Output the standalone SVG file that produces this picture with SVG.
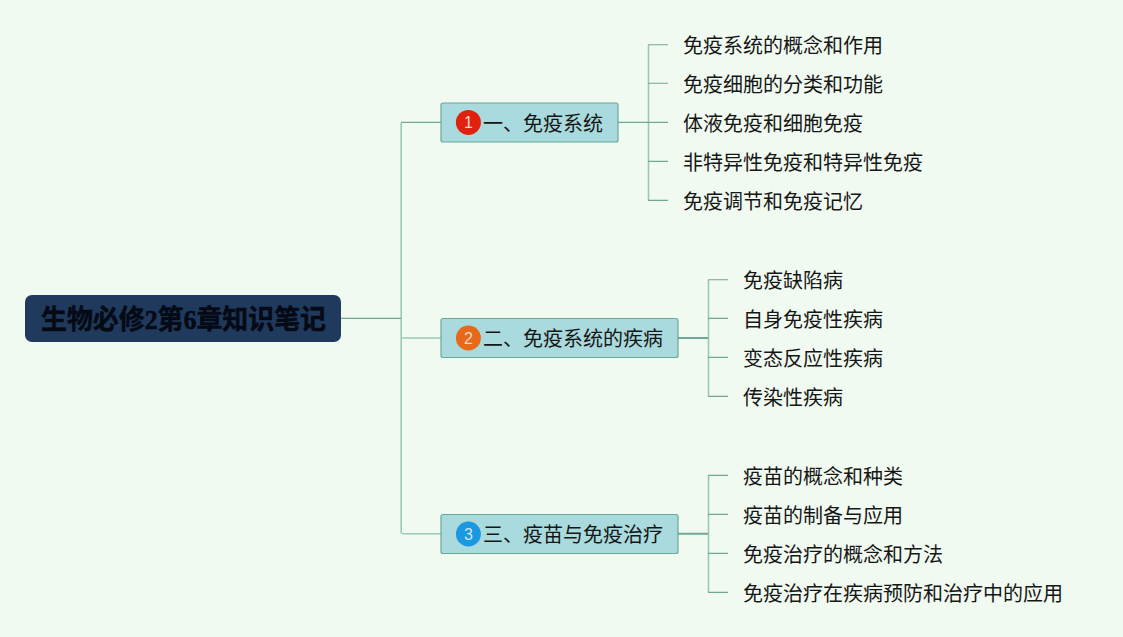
<svg xmlns="http://www.w3.org/2000/svg" width="1123" height="637" viewBox="0 0 1123 637">
<style>
text{font-family:"Liberation Sans","Noto Sans CJK SC",sans-serif;font-size:20px;fill:#161616}
.t{font-family:"Liberation Serif","Noto Sans CJK SC",serif;font-size:27px;font-weight:700;fill:#050a14;stroke:#050a14;stroke-width:.5}
.b{fill:#a9dadd;stroke:#6aa898;stroke-width:1.2}
.n{font-size:16px;fill:#f3d9c8;text-anchor:middle}
.s{fill:none;stroke:#9cc8b6;stroke-width:1.6}
.h{fill:none;stroke:#6fa896;stroke-width:1.1}
.w{fill:none;stroke:#6fa896;stroke-width:2}
</style>
<rect width="1123" height="637" fill="#f0faf0"/>
<g id="connectors">
<path class="s" d="M401.200 123V533.500M648.500 45V200M708.500 280V396M708.500 476V592"/>
<path class="s" d="M402 338H441M402 533.700H441"/>
<path class="h" d="M341 318.400H401M441 122.400H401M618 122.400H668M648 44.700H668M648 83.200H668M648 161.400H668M648 200.400H668"/>
<path class="w" d="M678 338H708M678 533.700H708"/>
<path class="h" d="M708 279.700H728M708 318.400H728M708 357.400H728M708 396.400H728M708 475.400H728M708 514.400H728M708 553.400H728M708 592.400H728"/>
</g>
<g id="root"><rect x="25" y="295" width="316" height="47" rx="7" fill="#1f3a5c"/><text class="t" x="41" y="329" textLength="285" lengthAdjust="spacingAndGlyphs">生物必修2第6章知识笔记</text></g>
<g id="n1"><rect class="b" x="441" y="103" width="177" height="39" rx="2"/><circle cx="468.400" cy="122.400" r="12.500" fill="#e1200d"/><text class="n" x="468.400" y="128">1</text><text x="483" y="131">一、免疫系统</text></g>
<g id="n2"><rect class="b" x="441" y="318.500" width="237" height="39" rx="2"/><circle cx="468.400" cy="338" r="12.500" fill="#e8681a"/><text class="n" x="468.400" y="344">2</text><text x="483" y="346">二、免疫系统的疾病</text></g>
<g id="n3"><rect class="b" x="441" y="514.500" width="237" height="39" rx="2"/><circle cx="468.400" cy="534" r="12.500" fill="#1c98e0"/><text class="n" x="468.400" y="540" style="fill:#cde8f5">3</text><text x="483" y="542">三、疫苗与免疫治疗</text></g>
<g id="a1"><text x="683" y="53">免疫系统的概念和作用</text></g>
<g id="a2"><text x="683" y="92">免疫细胞的分类和功能</text></g>
<g id="a3"><text x="683" y="131">体液免疫和细胞免疫</text></g>
<g id="a4"><text x="683" y="170">非特异性免疫和特异性免疫</text></g>
<g id="a5"><text x="683" y="209">免疫调节和免疫记忆</text></g>
<g id="b1"><text x="743" y="288">免疫缺陷病</text></g>
<g id="b2"><text x="743" y="327">自身免疫性疾病</text></g>
<g id="b3"><text x="743" y="366">变态反应性疾病</text></g>
<g id="b4"><text x="743" y="405">传染性疾病</text></g>
<g id="c1"><text x="743" y="484">疫苗的概念和种类</text></g>
<g id="c2"><text x="743" y="523">疫苗的制备与应用</text></g>
<g id="c3"><text x="743" y="562">免疫治疗的概念和方法</text></g>
<g id="c4"><text x="743" y="601">免疫治疗在疾病预防和治疗中的应用</text></g>
</svg>
